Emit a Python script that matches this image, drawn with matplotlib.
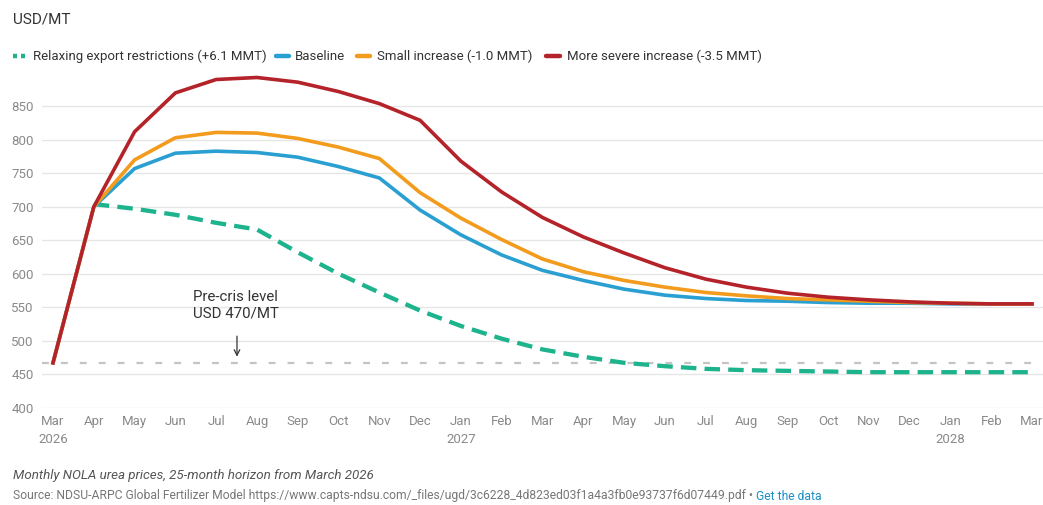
import matplotlib
matplotlib.use("Agg")
import matplotlib.pyplot as plt
from matplotlib.lines import Line2D

plt.rcParams['font.family'] = ['Roboto', 'DejaVu Sans']

months = ["Mar", "Apr", "May", "Jun", "Jul", "Aug", "Sep", "Oct", "Nov", "Dec",
          "Jan", "Feb", "Mar", "Apr", "May", "Jun", "Jul", "Aug", "Sep", "Oct",
          "Nov", "Dec", "Jan", "Feb", "Mar"]
years = {0: "2026", 10: "2027", 22: "2028"}

relaxing = [None, 704, 697, 688, 676, 666, 632, 600, 572, 545, 522, 503, 487,
            476, 467, 462, 458, 456, 455, 454, 453, 453, 453, 453, 453]
baseline = [467, 700, 757, 780, 783, 781, 774, 760, 743, 695, 658, 628, 605,
            590, 577, 568, 563, 560, 559, 557, 556, 556, 555, 555, 555]
small = [467, 700, 770, 803, 811, 810, 802, 789, 772, 721, 683, 651, 622,
         603, 590, 580, 572, 567, 563, 561, 559, 557, 556, 555, 555]
severe = [467, 700, 812, 870, 890, 893, 886, 872, 854, 829, 768, 722, 684,
          655, 631, 609, 592, 580, 571, 565, 561, 558, 556, 555, 555]
pre_crisis = 467

series_names = ["Relaxing export restrictions (+6.1 MMT)", "Baseline",
                "Small increase (-1.0 MMT)", "More severe increase (-3.5 MMT)"]
c_teal, c_blue, c_orange, c_red = "#1db38c", "#2a9fd2", "#f29b1d", "#b4232a"

W, H = 1043, 505
fig = plt.figure(figsize=(W / 100, H / 100), dpi=100)
ax = fig.add_axes([42 / W, (H - 407.7) / H, 1 - 42 / W, (407.7 - 72.8) / H])

x = list(range(len(months)))
ax.set_xlim(-0.27, 24.27)
ax.set_ylim(400, 900)

ax.set_yticks([400, 450, 500, 550, 600, 650, 700, 750, 800, 850])
ax.grid(axis='y', color='#e6e6e6', linewidth=1)
ax.set_axisbelow(True)
for s in ax.spines.values():
    s.set_visible(False)
ax.tick_params(axis='y', length=0, pad=6, labelsize=9.5, labelcolor='#8a8a8a')
ax.tick_params(axis='x', length=0, pad=5, labelsize=9.5, labelcolor='#8a8a8a')
ax.set_xticks(x)
ax.set_xticklabels([m + ("\n" + years[i] if i in years else "") for i, m in enumerate(months)],
                   va='top', linespacing=1.5)

ax.axhline(pre_crisis, color='#c4c4c4', linewidth=1.6, dashes=(3.1, 5.4), zorder=1)

xr = [i for i, v in enumerate(relaxing) if v is not None]
yr = [v for v in relaxing if v is not None]
ax.plot(xr, yr, color=c_teal, linewidth=3.1, dashes=(3.6, 1.9), zorder=3,
        solid_capstyle='butt', dash_capstyle='butt')
ax.plot(x, baseline, color=c_blue, linewidth=2.6, zorder=4, solid_joinstyle='round')
ax.plot(x, small, color=c_orange, linewidth=2.6, zorder=5, solid_joinstyle='round')
ax.plot(x, severe, color=c_red, linewidth=2.6, zorder=6, solid_joinstyle='round')

ax.text(3.43, 576, "Pre-cris level\nUSD 470/MT", fontsize=10.8, color='#333333',
        ha='left', va='top', linespacing=1.2)
ax.annotate("", xy=(4.51, 472), xytext=(4.51, 511),
            arrowprops=dict(arrowstyle='->', color='#333333', lw=0.9))

fig.text(13 / W, 1 - 20 / H, "USD/MT", fontsize=11, color='#333333', va='center', ha='left')

# legend
ly = 1 - 56 / H
legend_items = [(13, 27, c_teal, 33, series_names[0], True),
                (276, 289, c_blue, 295, series_names[1], False),
                (357, 370, c_orange, 377, series_names[2], False),
                (546, 560, c_red, 567, series_names[3], False)]
for x0, x1, col, tx, label, dotted in legend_items:
    if dotted:
        fig.add_artist(Line2D([x0 / W, (x0 + 4) / W], [ly, ly], color=col, lw=3.2,
                              solid_capstyle='butt', transform=fig.transFigure))
        fig.add_artist(Line2D([(x0 + 8) / W, (x0 + 12) / W], [ly, ly], color=col, lw=3.2,
                              solid_capstyle='butt', transform=fig.transFigure))
    else:
        fig.add_artist(Line2D([x0 / W, x1 / W], [ly, ly], color=col, lw=3.2,
                              solid_capstyle='round', transform=fig.transFigure))
    fig.text(tx / W, ly, label, fontsize=9.5, color='#333333', va='center', ha='left')

fig.text(13 / W, 1 - 476 / H, "Monthly NOLA urea prices, 25-month horizon from March 2026",
         fontsize=9.6, style='italic', color='#555555', va='center', ha='left')
src = fig.text(13 / W, 1 - 496 / H,
               "Source: NDSU-ARPC Global Fertilizer Model https://www.capts-ndsu.com/_files/ugd/3c6228_4d823ed03f1a4a3fb0e93737f6d07449.pdf \u2022 ",
               fontsize=8.7, color='#777777', va='center', ha='left')
fig.canvas.draw()
bb = src.get_window_extent()
fig.text(bb.x1 / W, 1 - 496 / H, "Get the data", fontsize=8.7, color='#1a8fc6',
         va='center', ha='left')

fig.savefig("out.png", dpi=100)
